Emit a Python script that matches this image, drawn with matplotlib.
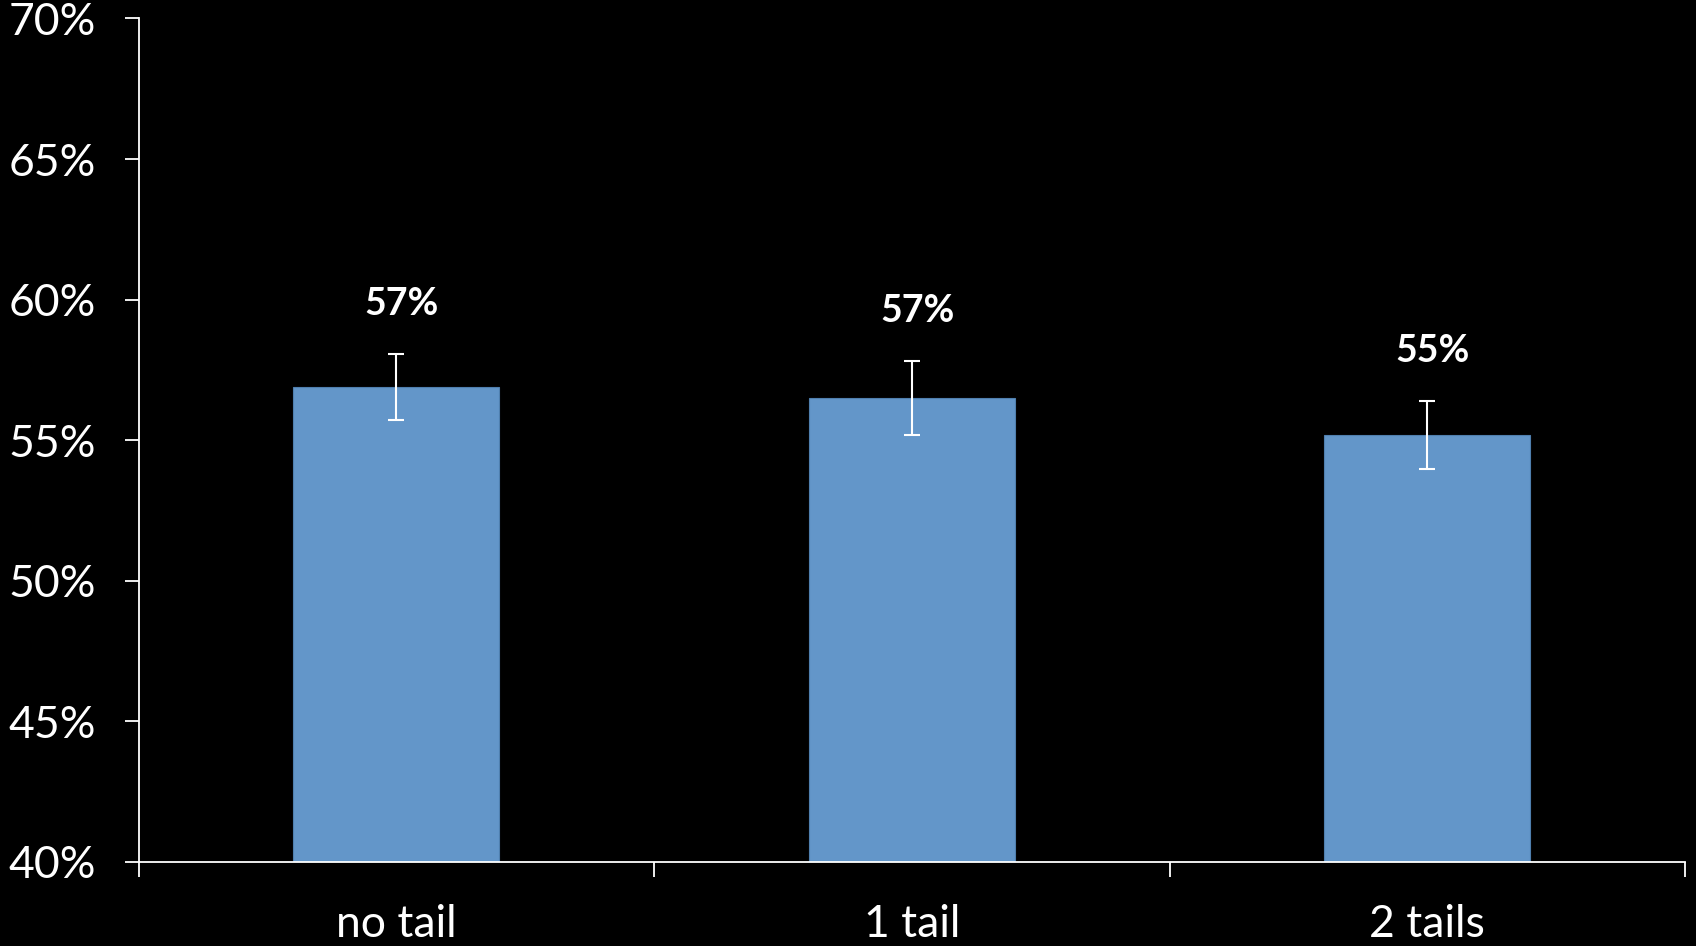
import matplotlib.pyplot as plt
from matplotlib.ticker import FuncFormatter

categories = ['no tail', '1 tail', '2 tails']
values = [56.9, 56.5, 55.2]
errors = [1.17, 1.33, 1.21]
labels = ['57%', '57%', '55%']
yticks = [40, 45, 50, 55, 60, 65, 70]

plt.rcParams['font.family'] = ['Lato', 'DejaVu Sans']

fig = plt.figure(figsize=(16.96, 9.46), dpi=100, facecolor='black')
ax = fig.add_axes([0.0817, 0.0888, 0.9118, 0.8917])
ax.set_facecolor('black')

x = range(len(categories))
ax.bar(x, values, width=0.4, color='#6396c9', edgecolor='#4f7fae', linewidth=0.8, zorder=2)
ax.errorbar(x, values, yerr=errors, fmt='none', ecolor='white', elinewidth=1.5,
            capsize=6, capthick=1.5, zorder=3)

# value labels above the error bars
for i, (v, e, lab) in enumerate(zip(values, errors, labels)):
    ax.annotate(lab, (i, v + e), xytext=(4, 36), textcoords='offset points',
                ha='center', va='center', color='white', fontsize=27, fontweight='bold')

ax.set_xlim(-0.5, 2.5)
ax.set_ylim(40, 70)
ax.set_yticks(yticks)
ax.yaxis.set_major_formatter(FuncFormatter(lambda v, p: f'{v:.0f}%'))

ax.set_xticks([-0.5, 0.5, 1.5, 2.5])
ax.set_xticklabels([])
ax.set_xticks(list(x), minor=True)
ax.set_xticklabels(categories, minor=True)
ax.tick_params(axis='x', which='minor', length=0, pad=30, labelsize=32, colors='white')
ax.tick_params(axis='x', which='major', length=11, width=1.3, color='white')
ax.tick_params(axis='y', length=10, width=1.3, color='white', labelcolor='white',
               labelsize=32, pad=21)

for s in ['top', 'right']:
    ax.spines[s].set_visible(False)
for s in ['left', 'bottom']:
    ax.spines[s].set_color('white')
    ax.spines[s].set_linewidth(1.3)
ax.spines['bottom'].set_zorder(4)

fig.savefig('out.png', dpi=100, facecolor='black')
